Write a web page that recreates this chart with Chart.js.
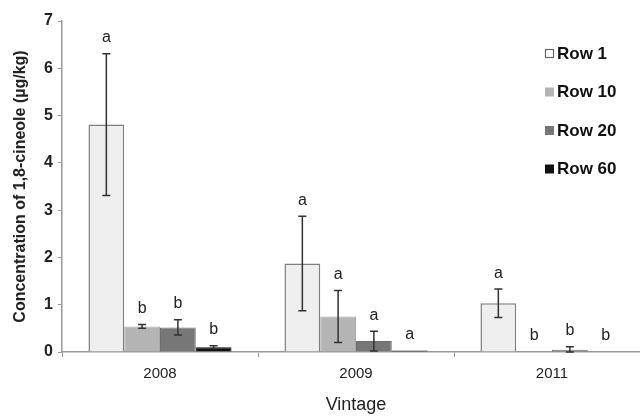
<!DOCTYPE html>
<html lang="en">
<head>
    <meta charset="UTF-8">
    <title>1,8-cineole by vintage</title>
    <script src="https://cdn.jsdelivr.net/npm/chart.js"></script>
    <style>
        html, body { margin: 0; padding: 0; background: #fff; overflow: hidden; width: 640px; height: 416px; }
        #wrap { width: 660px; height: 416px; }
    </style>
</head>
<body>
    <div id="wrap"><canvas id="cineoleChart" width="652" height="416"></canvas></div>

    <script>
        // data
        const vintages = ["2008", "2009", "2011"];
        const rowNames = ["Row 1", "Row 10", "Row 20", "Row 60"];
        const row1 = [4.81, 1.87, 1.03];
        const row10 = [0.54, 0.75, 0];
        const row20 = [0.52, 0.23, 0.05];
        const row60 = [0.10, 0.03, 0];
        const row1Err = [1.5, 1.0, 0.3];
        const row10Err = [0.04, 0.55, 0];
        const row20Err = [0.16, 0.21, 0.06];
        const row60Err = [0.03, 0, 0];
        const row1Letters = ["a", "a", "a"];
        const row10Letters = ["b", "a", "b"];
        const row20Letters = ["b", "a", "b"];
        const row60Letters = ["b", "a", "b"];
        const yTicks = [0, 1, 2, 3, 4, 5, 6, 7];

        const errs = [row1Err, row10Err, row20Err, row60Err];
        const letters = [row1Letters, row10Letters, row20Letters, row60Letters];
        const fills = ["#efefef", "#b4b4b4", "#777777", "#111111"];
        const edges = ["#808080", "#a8a8a8", "#6e6e6e", "#111111"];
        const FONT = "Arial, 'Liberation Sans', sans-serif";

        // error bars and significance letters
        const errorBars = {
            id: "errorBars",
            afterDatasetsDraw(chart) {
                const ctx = chart.ctx;
                const y = chart.scales.y;
                ctx.save();
                chart.data.datasets.forEach((ds, i) => {
                    const meta = chart.getDatasetMeta(i);
                    meta.data.forEach((bar, j) => {
                        const v = ds.data[j];
                        const e = errs[i][j];
                        const top = y.getPixelForValue(v + e);
                        if (e > 0) {
                            const bot = y.getPixelForValue(Math.max(v - e, 0));
                            ctx.strokeStyle = "#333";
                            ctx.lineWidth = 1.5;
                            ctx.beginPath();
                            ctx.moveTo(bar.x, top); ctx.lineTo(bar.x, bot);
                            ctx.moveTo(bar.x - 4, top); ctx.lineTo(bar.x + 4, top);
                            ctx.moveTo(bar.x - 4, bot); ctx.lineTo(bar.x + 4, bot);
                            ctx.stroke();
                        }
                        ctx.fillStyle = "#222";
                        ctx.font = "16px " + FONT;
                        ctx.textAlign = "center";
                        ctx.textBaseline = "middle";
                        ctx.fillText(letters[i][j], bar.x, top - 16);
                    });
                });
                ctx.restore();
            }
        };

        // legend stacked inside the plot, right side
        const sideLegend = {
            id: "sideLegend",
            afterDraw(chart) {
                const ctx = chart.ctx;
                ctx.save();
                ctx.font = "bold 17px " + FONT;
                ctx.textBaseline = "middle";
                ctx.textAlign = "left";
                chart.data.datasets.forEach((ds, i) => {
                    const cy = 53 + i * 38.5;
                    ctx.fillStyle = i === 0 ? "#ffffff" : fills[i];
                    ctx.fillRect(545, cy - 4, 9, 9);
                    if (i === 0) {
                        ctx.strokeStyle = "#666";
                        ctx.lineWidth = 1.2;
                        ctx.strokeRect(545.5, cy - 3.5, 8, 8);
                    }
                    ctx.fillStyle = "#111";
                    ctx.fillText(ds.label, 557, cy + 1);
                });
                ctx.restore();
            }
        };

        const datasets = [row1, row10, row20, row60].map((vals, i) => ({
            label: rowNames[i],
            data: vals,
            backgroundColor: fills[i],
            borderColor: edges[i],
            borderWidth: i === 0 ? 1.5 : 1
        }));

        new Chart(document.getElementById("cineoleChart").getContext("2d"), {
            type: "bar",
            data: { labels: vintages, datasets: datasets },
            options: {
                responsive: false,
                animation: false,
                layout: { padding: { top: 21, right: 2, left: 0, bottom: 0 } },
                datasets: { bar: { categoryPercentage: 0.73, barPercentage: 1 } },
                plugins: { legend: { display: false }, tooltip: { enabled: false } },
                scales: {
                    x: {
                        border: { color: "#999", width: 1.5 },
                        grid: { drawOnChartArea: false, color: "#999", tickLength: 5, offset: true },
                        ticks: { color: "#222", font: { family: FONT, size: 15 }, padding: 8 },
                        title: { display: true, text: "Vintage", color: "#222", font: { family: FONT, size: 18 }, padding: { top: 3, bottom: 0 } },
                        afterFit(scale) { scale.height = 64; }
                    },
                    y: {
                        min: 0,
                        max: 7,
                        afterBuildTicks(scale) { scale.ticks = yTicks.map(v => ({ value: v })); },
                        border: { color: "#999", width: 1.5 },
                        grid: { drawOnChartArea: false, color: "#999", tickLength: 4 },
                        ticks: { color: "#222", font: { family: FONT, size: 16, weight: "bold" }, padding: 5 },
                        title: { display: true, text: "Concentration of 1,8-cineole (µg/kg)", color: "#222", font: { family: FONT, size: 16, weight: "bold" }, padding: { top: 11, bottom: 6 } },
                        afterFit(scale) { scale.width = 62; }
                    }
                }
            },
            plugins: [errorBars, sideLegend]
        });
    </script>
</body>
</html>
